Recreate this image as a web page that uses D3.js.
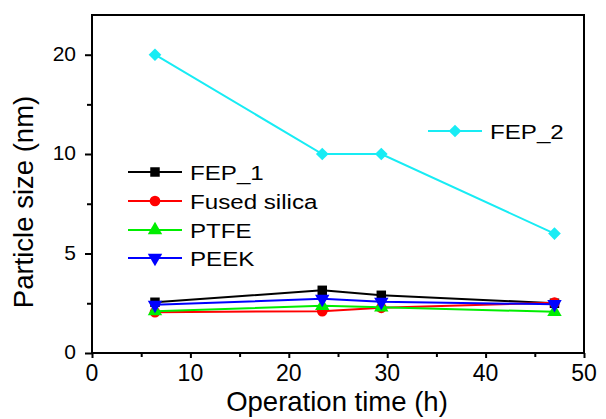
<!DOCTYPE html>
<html>
<head>
<meta charset="utf-8">
<script src="https://cdn.jsdelivr.net/npm/d3@7"></script>
<style>
  body { margin: 0; background: #fff; }
  text { font-family: "Liberation Sans", Arial, sans-serif; fill: #000; }
</style>
</head>
<body>
<div id="chart"></div>
<script>
// Data
const hours = [6.4, 23.4, 29.4, 47];
const fep1 = [2.55, 3.15, 2.9, 2.5];
const fusedSilica = [2.05, 2.1, 2.27, 2.53];
const ptfe = [2.1, 2.37, 2.3, 2.07];
const peek = [2.42, 2.72, 2.57, 2.45];
const fep2 = [20, 10, 10, 6];

const seriesNames = ["FEP_1", "Fused silica", "PTFE", "PEEK", "FEP_2"];
const seriesValues = [fep1, fusedSilica, ptfe, peek, fep2];
const seriesColors = ["#000000", "#ff0000", "#00ee00", "#0000ff", "#18ecf4"];
const seriesSymbols = [d3.symbolSquare, d3.symbolCircle, d3.symbolTriangle, d3.symbolTriangle, d3.symbolSquare];

const xTicks = [0, 10, 20, 30, 40, 50];
const xMinor = [5, 15, 25, 35, 45];
const yTicks = [0, 5, 10, 20];
const yMinor = [2.5, 7.5, 15];

const W = 606, H = 419;
const plot = { left: 92, right: 584, top: 15, bottom: 353 };

const svg = d3.select("#chart").append("svg")
  .attr("width", W).attr("height", H);

const x = d3.scaleLinear().domain([0, 50]).range([plot.left, plot.right]);
// y axis is two-piece: 0-10 takes twice the room of 10-20
const y = d3.scaleLinear().domain([0, 10, 24]).range([plot.bottom, 154, plot.top]);

// x axis ticks + labels
const xAxis = svg.append("g").attr("transform", `translate(0,${plot.bottom})`);
xAxis.call(d3.axisBottom(x).tickValues(xTicks).tickSize(5).tickFormat(""));
xAxis.append("g").call(d3.axisBottom(x).tickValues(xMinor).tickSize(4).tickFormat(""));
xAxis.selectAll(".domain").remove();
xAxis.selectAll("line").attr("stroke", "#000").attr("stroke-width", 2);

svg.append("g").selectAll("text")
  .data(xTicks)
  .join("text")
  .attr("x", d => x(d))
  .attr("y", 381)
  .attr("text-anchor", "middle")
  .attr("font-size", 23)
  .text(d => d);

// y axis ticks + labels
const yAxis = svg.append("g").attr("transform", `translate(${plot.left},0)`);
yAxis.call(d3.axisLeft(y).tickValues(yTicks).tickSize(7).tickFormat(""));
yAxis.append("g").call(d3.axisLeft(y).tickValues(yMinor).tickSize(5).tickFormat(""));
yAxis.selectAll(".domain").remove();
yAxis.selectAll("line").attr("stroke", "#000").attr("stroke-width", 2);

svg.append("g").selectAll("text")
  .data(yTicks)
  .join("text")
  .attr("x", 76)
  .attr("y", d => y(d) + 6)
  .attr("text-anchor", "end")
  .attr("font-size", 21)
  .text(d => d);

// frame
svg.append("rect")
  .attr("x", plot.left).attr("y", plot.top)
  .attr("width", plot.right - plot.left).attr("height", plot.bottom - plot.top)
  .attr("fill", "none").attr("stroke", "#000").attr("stroke-width", 2);

// axis titles
svg.append("text")
  .attr("x", 337).attr("y", 411)
  .attr("text-anchor", "middle").attr("font-size", 27.5)
  .text("Operation time (h)");

svg.append("text")
  .attr("transform", "translate(33,202) rotate(-90)")
  .attr("text-anchor", "middle").attr("font-size", 27.5)
  .text("Particle size (nm)");

const line = d3.line().x((d, i) => x(hours[i])).y(d => y(d));

function marker(g, i, cx, cy) {
  const sym = d3.symbol().type(seriesSymbols[i]).size(i === 1 ? 90 : i === 4 ? 80 : 90);
  let rot = "";
  if (i === 3) rot = " rotate(180)";
  if (i === 4) rot = " rotate(45)";
  g.append("path")
    .attr("d", sym())
    .attr("fill", seriesColors[i])
    .attr("transform", `translate(${cx},${cy})` + rot);
}

// series
seriesValues.forEach((vals, i) => {
  const g = svg.append("g");
  g.append("path")
    .attr("d", line(vals))
    .attr("fill", "none")
    .attr("stroke", seriesColors[i])
    .attr("stroke-width", 2);
  vals.forEach((v, j) => marker(g, i, x(hours[j]), y(v)));
});

// legends
const legendRows = [172, 201, 230, 258];
function legendItem(i, x0, cy) {
  const g = svg.append("g");
  g.append("line")
    .attr("x1", x0).attr("x2", x0 + 54)
    .attr("y1", cy).attr("y2", cy)
    .attr("stroke", seriesColors[i]).attr("stroke-width", 2);
  marker(g, i, x0 + 27, cy);
  g.append("text")
    .attr("transform", `translate(${x0 + 62},${cy + 8}) scale(1.15,1)`)
    .attr("font-size", 21)
    .text(seriesNames[i]);
}
[0, 1, 2, 3].forEach(i => legendItem(i, 128, legendRows[i]));
legendItem(4, 428, 131);
</script>
</body>
</html>
